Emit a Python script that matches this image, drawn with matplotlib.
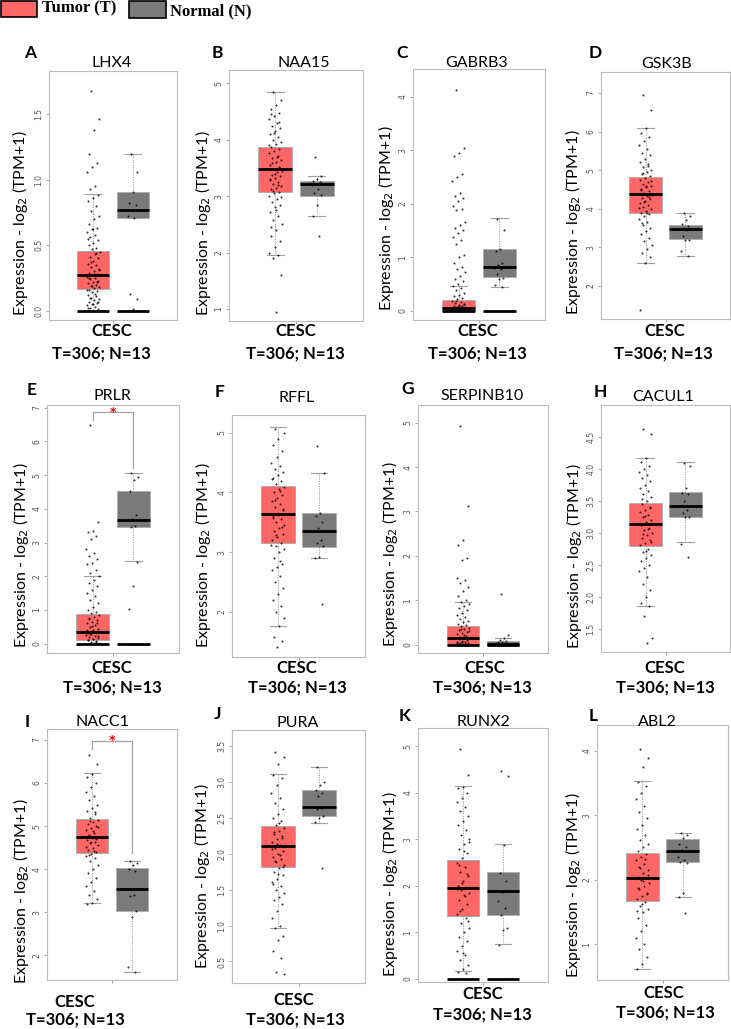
import numpy as np
import matplotlib
matplotlib.use("Agg")
import matplotlib.pyplot as plt
from matplotlib.patches import Rectangle

W, H = 731, 1029
SANS = "Lato"

genes = ["LHX4", "NAA15", "GABRB3", "GSK3B", "PRLR", "RFFL",
         "SERPINB10", "CACUL1", "NACC1", "PURA", "RUNX2", "ABL2"]
letters = list("ABCDEFGHIJKL")
group_label = "CESC"
count_label = "T=306; N=13"

# box stats: q1, median, q3, lower whisker, upper whisker
tumor_stats = [
    [0.165, 0.27, 0.455, 0.0, 0.89],
    [3.08, 3.48, 3.87, 1.95, 4.85],
    [0.0, 0.05, 0.2, 0.0, 0.46],
    [3.9, 4.39, 4.81, 2.59, 6.09],
    [0.12, 0.35, 0.89, 0.0, 2.02],
    [3.15, 3.64, 4.11, 1.77, 5.09],
    [0.0, 0.15, 0.41, 0.0, 0.97],
    [2.79, 3.13, 3.47, 1.86, 4.16],
    [4.37, 4.75, 5.16, 3.22, 6.24],
    [1.81, 2.1, 2.39, 0.96, 3.11],
    [1.35, 1.96, 2.55, 0.16, 4.15],
    [1.67, 2.02, 2.41, 0.61, 3.53],
]
normal_stats = [
    [0.71, 0.77, 0.91, 0.71, 1.2],
    [3.01, 3.22, 3.27, 2.64, 3.36],
    [0.63, 0.81, 1.15, 0.45, 1.73],
    [3.21, 3.48, 3.57, 2.78, 3.9],
    [3.45, 3.67, 4.53, 2.44, 5.06],
    [3.09, 3.36, 3.66, 2.91, 4.33],
    [0.0, 0.02, 0.075, 0.0, 0.15],
    [3.25, 3.42, 3.63, 2.85, 4.1],
    [3.03, 3.53, 4.03, 1.62, 4.2],
    [2.52, 2.65, 2.89, 2.43, 3.2],
    [1.37, 1.88, 2.29, 0.74, 2.89],
    [2.27, 2.45, 2.63, 1.74, 2.72],
]
# panels with a flat line of zero values drawn under both boxes
zero_line = [True, False, True, False, True, False, True, False, False, False, True, False]

# individual samples (tumor is only a sample of the 306)
tumor_pts = [
    [1.68, 1.46, 1.38, 1.2, 1.13, 1.1, 1.06, 0.95, 0.93, 0.88, 0.86, 0.84, 0.8, 0.76, 0.72, 0.7, 0.66,
     0.63, 0.62, 0.6, 0.58, 0.56, 0.54, 0.52, 0.5, 0.48, 0.47, 0.45, 0.43, 0.41, 0.4, 0.38, 0.36, 0.35,
     0.33, 0.31, 0.3, 0.29, 0.28, 0.27, 0.26, 0.25, 0.24, 0.23, 0.22, 0.21, 0.2, 0.19, 0.18, 0.17, 0.16,
     0.15, 0.14, 0.12, 0.11, 0.1, 0.09, 0.08, 0.07, 0.06, 0.05, 0.04, 0.03, 0.02, 0.01,
     0.62, 0.55, 0.44, 0.37, 0.32, 0.28, 0.25, 0.22, 0.19, 0.16, 0.13, 0.1, 0.07, 0.05, 0.02],
    [4.85, 4.7, 4.62, 4.55, 4.48, 4.42, 4.36, 4.3, 4.25, 4.2, 4.15, 4.1, 4.05, 4.0, 3.96, 3.92, 3.88,
     3.84, 3.8, 3.76, 3.72, 3.68, 3.64, 3.6, 3.56, 3.52, 3.48, 3.45, 3.42, 3.38, 3.35, 3.32, 3.28, 3.25,
     3.22, 3.18, 3.15, 3.12, 3.08, 3.05, 3.0, 2.95, 2.9, 2.85, 2.8, 2.72, 2.65, 2.58, 2.5, 2.4, 2.3,
     2.2, 2.1, 2.0, 1.95, 1.9, 1.6, 0.95,
     4.45, 4.32, 4.12, 3.9, 3.7, 3.58, 3.5, 3.4, 3.3, 3.2, 3.1, 2.98, 2.76, 2.45],
    [4.12, 3.05, 2.95, 2.9, 2.55, 2.5, 2.42, 2.2, 2.15, 2.1, 2.05, 1.95, 1.9, 1.88, 1.65, 1.6, 1.55,
     1.5, 1.45, 1.38, 1.32, 1.25, 1.05, 1.0, 0.9, 0.82, 0.78, 0.72, 0.65, 0.6, 0.55, 0.5, 0.46, 0.42,
     0.38, 0.34, 0.3, 0.27, 0.24, 0.21, 0.19, 0.17, 0.15, 0.13, 0.11, 0.09, 0.08, 0.07, 0.06, 0.05,
     0.04, 0.03, 0.02, 0.01, 0.0, 0.18, 0.12, 0.08, 0.05, 0.03, 0.02, 0.01, 0.0],
    [6.95, 6.55, 6.08, 5.95, 5.85, 5.75, 5.65, 5.55, 5.45, 5.38, 5.3, 5.22, 5.15, 5.08, 5.0, 4.95, 4.9,
     4.85, 4.8, 4.75, 4.7, 4.65, 4.6, 4.55, 4.5, 4.45, 4.4, 4.36, 4.32, 4.28, 4.24, 4.2, 4.15, 4.1,
     4.05, 4.0, 3.95, 3.9, 3.85, 3.8, 3.72, 3.65, 3.58, 3.5, 3.42, 3.35, 3.25, 3.15, 3.05, 2.95, 2.85,
     2.75, 2.6, 1.38, 5.1, 4.92, 4.72, 4.58, 4.48, 4.3, 4.18, 4.02, 3.88, 3.62],
    [6.5, 3.6, 3.35, 3.3, 3.2, 3.1, 2.8, 2.7, 2.6, 2.5, 2.4, 2.35, 2.2, 2.1, 2.02, 1.9, 1.8, 1.7, 1.6,
     1.5, 1.4, 1.3, 1.2, 1.1, 1.0, 0.95, 0.9, 0.85, 0.8, 0.75, 0.7, 0.65, 0.6, 0.55, 0.5, 0.45, 0.4,
     0.36, 0.33, 0.3, 0.27, 0.24, 0.2, 0.17, 0.14, 0.11, 0.08, 0.05, 0.03, 0.01,
     0.72, 0.62, 0.52, 0.42, 0.35, 0.28, 0.22, 0.15, 0.1, 0.06, 0.02],
    [5.07, 5.0, 4.9, 4.8, 4.7, 4.6, 4.5, 4.45, 4.4, 4.35, 4.3, 4.25, 4.2, 4.15, 4.1, 4.05, 4.0, 3.95,
     3.9, 3.85, 3.8, 3.75, 3.7, 3.65, 3.6, 3.55, 3.5, 3.45, 3.4, 3.35, 3.3, 3.25, 3.2, 3.15, 3.1, 3.05,
     3.0, 2.9, 2.8, 2.75, 2.7, 2.6, 2.5, 2.4, 2.3, 2.2, 2.1, 2.0, 1.9, 1.77, 1.58, 1.52, 1.42,
     4.22, 4.02, 3.88, 3.72, 3.62, 3.58, 3.42, 3.28, 3.12, 2.85],
    [4.93, 3.12, 2.35, 2.25, 1.95, 1.9, 1.5, 1.45, 1.4, 1.3, 1.2, 1.1, 1.0, 0.97, 0.92, 0.88, 0.82,
     0.78, 0.72, 0.68, 0.62, 0.58, 0.54, 0.5, 0.47, 0.44, 0.41, 0.38, 0.35, 0.32, 0.29, 0.26, 0.23,
     0.2, 0.18, 0.16, 0.14, 0.12, 0.1, 0.08, 0.06, 0.05, 0.04, 0.03, 0.02, 0.01, 0.0,
     0.36, 0.3, 0.22, 0.17, 0.11, 0.07, 0.04, 0.02, 0.0],
    [4.62, 4.55, 4.16, 4.1, 4.05, 4.0, 3.95, 3.9, 3.85, 3.8, 3.75, 3.7, 3.65, 3.6, 3.55, 3.5, 3.45,
     3.4, 3.36, 3.32, 3.28, 3.24, 3.2, 3.16, 3.12, 3.08, 3.04, 3.0, 2.96, 2.92, 2.88, 2.84, 2.8, 2.75,
     2.7, 2.65, 2.6, 2.55, 2.5, 2.45, 2.4, 2.3, 2.2, 2.1, 2.0, 1.9, 1.85, 1.7, 1.35, 1.28,
     3.52, 3.38, 3.26, 3.14, 3.06, 2.98, 2.86, 2.72],
    [6.65, 6.45, 6.22, 6.15, 6.0, 5.9, 5.8, 5.7, 5.6, 5.5, 5.42, 5.35, 5.28, 5.2, 5.15, 5.1, 5.05, 5.0,
     4.95, 4.9, 4.85, 4.8, 4.75, 4.72, 4.68, 4.64, 4.6, 4.55, 4.5, 4.45, 4.4, 4.35, 4.3, 4.25, 4.2,
     4.1, 4.0, 3.9, 3.8, 3.7, 3.6, 3.5, 3.4, 3.3, 3.22, 3.2,
     5.32, 5.12, 4.98, 4.88, 4.78, 4.7, 4.62, 4.52, 4.42, 4.32],
    [3.42, 3.35, 3.25, 3.1, 3.05, 2.95, 2.85, 2.78, 2.7, 2.62, 2.55, 2.5, 2.45, 2.4, 2.36, 2.32, 2.28,
     2.24, 2.2, 2.16, 2.12, 2.08, 2.04, 2.0, 1.96, 1.92, 1.88, 1.84, 1.8, 1.75, 1.7, 1.65, 1.6, 1.55,
     1.5, 1.45, 1.4, 1.35, 1.3, 1.2, 1.1, 1.0, 0.96, 0.85, 0.8, 0.65, 0.55, 0.36, 0.33,
     2.42, 2.3, 2.22, 2.14, 2.06, 1.98, 1.9, 1.82, 1.72, 1.58],
    [4.95, 4.38, 4.13, 4.1, 4.0, 3.9, 3.8, 3.7, 3.6, 3.5, 3.4, 3.3, 3.2, 3.1, 3.0, 2.9, 2.8, 2.7, 2.6,
     2.5, 2.4, 2.3, 2.2, 2.1, 2.0, 1.95, 1.9, 1.85, 1.8, 1.7, 1.6, 1.5, 1.4, 1.3, 1.2, 1.1, 1.0, 0.9,
     0.8, 0.7, 0.6, 0.5, 0.4, 0.3, 0.2, 0.15, 0.13, 0.0,
     2.95, 2.75, 2.45, 2.25, 2.05, 1.92, 1.78, 1.45, 1.25, 0.55],
    [4.02, 3.88, 3.75, 3.52, 3.45, 3.35, 3.25, 3.15, 3.05, 2.95, 2.85, 2.78, 2.7, 2.62, 2.55, 2.5,
     2.45, 2.4, 2.35, 2.3, 2.25, 2.2, 2.15, 2.1, 2.05, 2.02, 2.0, 1.95, 1.9, 1.85, 1.8, 1.75, 1.7, 1.65,
     1.6, 1.55, 1.5, 1.4, 1.3, 1.2, 1.1, 1.0, 0.92, 0.8, 0.7, 0.62,
     2.32, 2.18, 2.08, 1.98, 1.88, 1.78, 1.62, 1.52],
]
normal_pts = [
    [1.2, 1.06, 0.91, 0.82, 0.81, 0.77, 0.72, 0.71, 0.13, 0.09, 0.01, 0.0, 0.0],
    [3.7, 3.36, 3.3, 3.27, 3.25, 3.22, 3.2, 3.12, 3.05, 3.02, 2.85, 2.64, 2.3],
    [1.72, 1.5, 1.15, 1.12, 0.9, 0.85, 0.8, 0.78, 0.68, 0.62, 0.6, 0.48, 0.44],
    [3.88, 3.8, 3.7, 3.6, 3.55, 3.5, 3.48, 3.45, 3.3, 3.2, 3.18, 2.9, 2.78],
    [5.05, 4.95, 4.85, 4.52, 3.82, 3.7, 3.66, 3.5, 3.45, 2.42, 1.7, 1.02, 0.0],
    [4.77, 4.33, 3.65, 3.6, 3.5, 3.4, 3.35, 3.2, 3.15, 3.1, 2.92, 2.91, 2.13],
    [1.15, 0.22, 0.15, 0.1, 0.08, 0.06, 0.05, 0.03, 0.02, 0.01, 0.0, 0.0, 0.0],
    [4.09, 4.05, 3.7, 3.62, 3.6, 3.5, 3.41, 3.35, 3.3, 3.25, 3.24, 2.83, 2.62],
    [4.2, 4.15, 4.1, 4.0, 3.95, 3.55, 3.53, 3.4, 3.38, 3.02, 2.9, 1.72, 1.62],
    [3.2, 3.0, 2.95, 2.88, 2.85, 2.8, 2.65, 2.64, 2.62, 2.52, 2.5, 2.44, 1.8],
    [4.47, 4.37, 2.87, 2.27, 2.1, 1.87, 1.67, 1.52, 1.38, 1.1, 1.05, 0.72, 0.0],
    [2.72, 2.7, 2.64, 2.55, 2.5, 2.46, 2.35, 2.3, 2.27, 2.26, 1.8, 1.74, 1.48],
]

# y axis ticks per panel
yticks = [
    [0.0, 0.5, 1.0, 1.5], [1, 2, 3, 4, 5], [0, 1, 2, 3, 4], [2, 3, 4, 5, 6, 7],
    [0, 1, 2, 3, 4, 5, 6, 7], [2, 3, 4, 5], [0, 1, 2, 3, 4, 5], [1.5, 2.0, 2.5, 3.0, 3.5, 4.0, 4.5],
    [2, 3, 4, 5, 6, 7], [0.5, 1.0, 1.5, 2.0, 2.5, 3.0, 3.5], [0, 1, 2, 3, 4, 5], [1, 2, 3, 4],
]
tick_fmt = ["%.1f", "%d", "%d", "%d", "%d", "%d", "%d", "%.1f", "%d", "%.1f", "%d", "%d"]

# ---- layout (pixels of the 731x1029 image) ----
# axes box: left, right, top, bottom
boxes_px = [
    (49, 177, 71, 320), (229, 363, 70, 321), (413, 545, 69, 320), (601, 730, 72, 319),
    (47, 179, 405, 653), (232, 365, 415, 657), (418, 548, 405, 653), (601, 730, 405, 652),
    (47, 177, 729, 980), (232, 365, 730, 983), (418, 548, 728, 982), (597, 728, 725, 980),
]
ylims = [
    (-0.071, 1.83), (0.787, 5.236), (-0.174, 4.52), (1.139, 7.543),
    (-0.276, 7.08), (1.246, 5.297), (-0.187, 5.398), (1.134, 4.996),
    (1.427, 7.255), (0.2, 3.72), (-0.073, 5.397), (0.447, 4.398),
]
letter_xy = [(30, 53), (217, 53), (402, 53), (595, 53), (32, 390), (220, 392), (408, 389), (600, 392),
             (27, 722), (218, 714), (405, 716), (593, 716)]
title_xy = [(112, 63), (304, 63), (477, 63), (667, 64), (112, 396), (297, 398), (482, 396), (663, 397),
            (102, 722), (298, 723), (483, 722), (657, 722)]
ylab_xy = [(20, 223), (203, 223), (386, 218), (573, 222), (21, 555), (203, 555), (390, 554), (574, 556),
           (21, 891), (202, 876), (390, 884), (573, 885)]
cesc_xy = [(112, 331), (296, 331), (478, 331), (665, 331), (112, 668), (297, 668), (485, 668), (665, 668),
           (75, 1002), (294, 1000), (483, 994), (664, 993)]
count_xy = [(101, 354), (295, 354), (477, 354), (663, 354), (112, 688), (297, 688), (482, 688), (665, 688),
            (75, 1020), (295, 1020), (482, 1015), (665, 1013)]
# significance brackets: panel -> (top, left end, right end)
brackets = {4: (6.86, 6.64, 5.2), 8: (6.98, 6.8, 4.37)}

RED = "#FF6666"
GREY = "#7A7A7A"
POS = [0.5 - 0.155, 0.5 + 0.155]
BW = 0.25


def fx(x):
    return x / W


def fy(y):
    return 1 - y / H


def jitter(n, half):
    k = np.arange(n)
    return ((k * 0.6180339887 + 0.31) % 1.0 - 0.5) * 2 * half


fig = plt.figure(figsize=(W / 100, H / 100), dpi=100)

for i in range(12):
    l, r, t, b = boxes_px[i]
    ax = fig.add_axes([fx(l), fy(b), (r - l) / W, (b - t) / H])
    stats = []
    for s in (tumor_stats[i], normal_stats[i]):
        stats.append(dict(q1=s[0], med=s[1], q3=s[2], whislo=s[3], whishi=s[4], fliers=[]))
    bp = ax.bxp(stats, positions=POS, widths=BW, patch_artist=True, showfliers=False,
                capwidths=BW / 2,
                boxprops=dict(edgecolor="#B0B0B0", linewidth=0.7),
                medianprops=dict(color="black", linewidth=2.0),
                whiskerprops=dict(color="#909090", linewidth=0.7, linestyle=(0, (1, 1.5))),
                capprops=dict(color="#A0A0A0", linewidth=0.8))
    bp["boxes"][0].set_facecolor(RED)
    bp["boxes"][1].set_facecolor(GREY)
    if zero_line[i]:
        for p in POS:
            ax.hlines(0, p - BW / 2, p + BW / 2, color="black", lw=2.0, zorder=3)
    tp = np.array(tumor_pts[i])
    npts = np.array(normal_pts[i])
    ax.scatter(POS[0] + jitter(len(tp), 0.05), tp, s=2.2, c="black", alpha=0.8, lw=0, zorder=4)
    ax.scatter(POS[1] + jitter(len(npts), 0.04), npts, s=2.2, c="black", alpha=0.8, lw=0, zorder=4)
    if i in brackets:
        top, lft, rgt = brackets[i]
        ax.plot([POS[0], POS[0], POS[1], POS[1]], [lft, top, top, rgt], color="#A0A0A0", lw=0.9, zorder=2)
        ax.text(0.5, top, "*", color="red", ha="center", va="center", fontsize=9, fontweight="bold")
    ax.set_xlim(0, 1)
    ax.set_ylim(*ylims[i])
    ax.set_xticks([0.5])
    ax.set_xticklabels([])
    ax.set_yticks(yticks[i])
    ax.set_yticklabels([tick_fmt[i] % v for v in yticks[i]], rotation=90, va="center",
                       fontsize=5.5, color="#555555", family="DejaVu Sans")
    ax.tick_params(axis="both", length=2.5, width=0.6, color="#999999", pad=1.5)
    for sp in ax.spines.values():
        sp.set_color("#BBBBBB")
        sp.set_linewidth(0.8)

    fig.text(fx(letter_xy[i][0]), fy(letter_xy[i][1]), letters[i], ha="center", va="center",
             fontsize=12.5, fontweight="bold", family=SANS)
    fig.text(fx(title_xy[i][0]), fy(title_xy[i][1]), genes[i], ha="center", va="center",
             fontsize=11.5, family=SANS)
    fig.text(fx(ylab_xy[i][0]), fy(ylab_xy[i][1]), r"Expression - log$_2$ (TPM+1)", rotation=90,
             ha="center", va="center", fontsize=11.5, family=SANS)
    fig.text(fx(cesc_xy[i][0]), fy(cesc_xy[i][1]), group_label, ha="center", va="center",
             fontsize=12, fontweight="bold", family=SANS)
    fig.text(fx(count_xy[i][0]), fy(count_xy[i][1]), count_label, ha="center", va="center",
             fontsize=12, fontweight="bold", family=SANS)

# legend across the top
fig.patches.append(Rectangle((fx(1), fy(17)), 36 / W, 16 / H, transform=fig.transFigure,
                             facecolor=RED, edgecolor="black", lw=1.2))
fig.text(fx(42), fy(8), "Tumor (T)", ha="left", va="center", fontsize=12, fontweight="bold",
         family="Liberation Serif")
fig.patches.append(Rectangle((fx(129), fy(18)), 37 / W, 17 / H, transform=fig.transFigure,
                             facecolor=GREY, edgecolor="black", lw=1.2))
fig.text(fx(170), fy(11), "Normal (N)", ha="left", va="center", fontsize=12, fontweight="bold",
         family="Liberation Serif")

fig.savefig("out.png", dpi=100)
